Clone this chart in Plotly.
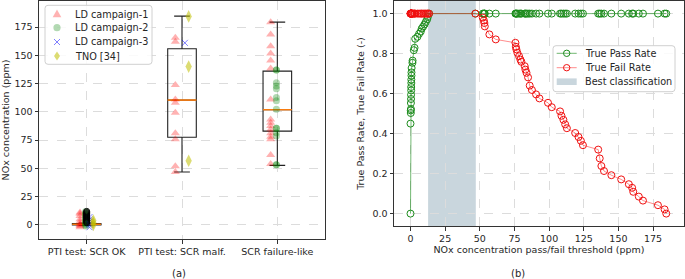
import plotly.graph_objects as go

FONT = "DejaVu Sans"

# ---------------- Panel (a) data ----------------
categories = ["PTI test: SCR OK", "PTI test: SCR malf.", "SCR failure-like"]
cat_pos = [1, 2, 3]

# LD campaign-1 (red triangles) per category
ld1_ok = [11, 10, 8, 5, 3, 1, 0, -1, -2]
ld1_malf = [165.5, 162, 123.7, 111, 108, 99.2, 81, 75.7, 52, 46.8]
ld1_fail = [179.3, 168.4, 158, 151.6, 145.4, 138.4, 111, 93.3, 90.4, 87.5,
            84.5, 81, 78, 75.7, 61.8, 53.9]
# LD campaign-2 (green circles)
ld2_ok = [12, 11, 10, 9, 8, 7, 6, 5, 4, 3, 2, 1, 0, -1]
ld2_fail = [137, 137, 125.7, 122.8, 120.4, 112.8, 109.8, 102.2, 85.4, 85.4,
            81.5, 78.6, 53.3, 53.3]
# LD campaign-3 (blue crosses)
ld3_ok = [7, 5, 3, 1, 0, -2]
ld3_malf = [161]
# TNO [34] (yellow diamonds)
tno_ok = [4, 2, 0]
tno_malf = [184.4, 140, 56.8]
# outliers of the "SCR OK" box
ok_fliers = [2, 3, 4, 5, 6, 7, 8, 9, 10, 11, 12]

# box statistics per category
box_q1 = [0.0, 77.5, 83.0]
box_median = [0.6, 110.4, 101.9]
box_q3 = [1.2, 155.8, 136.0]
box_lower = [-0.5, 46.8, 52.7]
box_upper = [1.8, 184.6, 179.3]

legend_a = ["LD campaign-1", "LD campaign-2", "LD campaign-3", "TNO [34]"]

# ---------------- Panel (b) data ----------------
ok_thresholds = [0, 0, 0.2, 0.2, 0.3, 0.3, 0.4, 0.4, 0.5, 0.5, 0.6, 0.6, 0.7, 0.7,
                 0.8, 1.4, 1.5, 2.4, 2.9, 3.4, 5.0, 6.2, 7.4, 8.1, 9.1, 10.1, 11.0,
                 12.0, 12.5, 13.4]
tpr_at_ok = [0, 0.45, 0.503, 0.516, 0.523, 0.553, 0.573, 0.594, 0.616, 0.633,
             0.653, 0.67, 0.69, 0.706, 0.728, 0.754, 0.765, 0.817, 0.829, 0.874,
             0.884, 0.899, 0.91, 0.925, 0.935, 0.946, 0.958, 0.971, 0.983, 1.0]
tfr_at_ok = [1.0, 1.0, 1.0, 1.0, 1.0, 1.0, 1.0, 1.0, 1.0, 1.0, 1.0, 1.0, 1.0, 1.0,
             1.0, 1.0, 1.0, 1.0, 1.0, 1.0, 1.0, 1.0, 1.0, 1.0, 1.0, 1.0, 1.0, 1.0,
             1.0, 1.0]
fail_thresholds = [46.8, 52.1, 52.9, 53.3, 53.6, 56.9, 61.5, 75.7, 76.0, 76.4,
                   77.1, 78.3, 79.3, 80.0, 82.4, 82.9, 83.7, 84.8, 86.0, 87.6,
                   90.6, 93.0, 99.2, 101.9, 107.9, 108.9, 110.3, 111.6, 112.8,
                   118.8, 121.2, 122.9, 124.4, 135.4, 136.5, 137.7, 139.6, 144.9,
                   152.0, 157.5, 159.9, 160.7, 164.7, 167.7, 178.5, 183.3, 184.5]
tfr_at_fail = [1.0, 0.98, 0.966, 0.953, 0.936, 0.896, 0.871, 0.854, 0.834, 0.821,
               0.804, 0.787, 0.77, 0.759, 0.737, 0.72, 0.704, 0.681, 0.64, 0.618,
               0.596, 0.576, 0.554, 0.532, 0.511, 0.489, 0.469, 0.446, 0.427,
               0.403, 0.383, 0.364, 0.342, 0.32, 0.276, 0.238, 0.213, 0.192,
               0.171, 0.147, 0.129, 0.109, 0.085, 0.065, 0.042, 0.021, 0.0]
tpr_at_fail = [1.0, 1.0, 1.0, 1.0, 1.0, 1.0, 1.0, 1.0, 1.0, 1.0, 1.0, 1.0, 1.0,
               1.0, 1.0, 1.0, 1.0, 1.0, 1.0, 1.0, 1.0, 1.0, 1.0, 1.0, 1.0, 1.0,
               1.0, 1.0, 1.0, 1.0, 1.0, 1.0, 1.0, 1.0, 1.0, 1.0, 1.0, 1.0, 1.0,
               1.0, 1.0, 1.0, 1.0, 1.0, 1.0, 1.0, 1.0]
best_range = [12.7, 47.1]

legend_b = ["True Pass Rate", "True Fail Rate", "Best classification"]

# ---------------- styles ----------------
W, H = 685, 279
RED_A = "rgba(255,0,0,0.3)"
GREEN_A = "rgba(0,128,0,0.3)"
BLUE_A = "rgba(0,0,255,0.5)"
YEL_A = "rgba(191,191,0,0.55)"
GREEN_M = "#1c8c1c"
RED_M = "#f01010"
GREEN_L = "rgba(0,128,0,0.55)"
RED_L = "rgba(255,0,0,0.45)"
SPAN = "rgb(201,214,221)"
TXT = "#262626"
off = {"ld1": -0.07, "ld2": -0.01, "ld3": 0.03, "tno": 0.07}

fig = go.Figure()


def pts(groups, key):
    xs, ys = [], []
    for p, vals in groups:
        xs += [p + off[key]] * len(vals)
        ys += list(vals)
    return xs, ys


x, y = pts([(cat_pos[0], ld1_ok), (cat_pos[1], ld1_malf), (cat_pos[2], ld1_fail)], "ld1")
fig.add_trace(go.Scatter(x=x, y=y, mode="markers", name=legend_a[0],
                         marker=dict(symbol="triangle-up", size=8, color=RED_A, line=dict(width=0)),
                         xaxis="x", yaxis="y"))
x, y = pts([(cat_pos[0], ld2_ok), (cat_pos[2], ld2_fail)], "ld2")
fig.add_trace(go.Scatter(x=x, y=y, mode="markers", name=legend_a[1],
                         marker=dict(symbol="circle", size=7, color=GREEN_A, line=dict(width=0)),
                         xaxis="x", yaxis="y"))
x, y = pts([(cat_pos[0], ld3_ok), (cat_pos[1], ld3_malf)], "ld3")
fig.add_trace(go.Scatter(x=x, y=y, mode="markers", name=legend_a[2],
                         marker=dict(symbol="x-thin", size=6, color=BLUE_A,
                                     line=dict(width=1, color=BLUE_A)),
                         xaxis="x", yaxis="y"))
x, y = pts([(cat_pos[0], tno_ok), (cat_pos[1], tno_malf)], "tno")
fig.add_trace(go.Scatter(x=x, y=y, mode="markers", name=legend_a[3],
                         marker=dict(symbol="diamond-tall", size=9, color=YEL_A, line=dict(width=0)),
                         xaxis="x", yaxis="y"))
fig.add_trace(go.Scatter(x=[cat_pos[0]] * len(ok_fliers), y=ok_fliers, mode="markers",
                         marker=dict(symbol="circle-open", size=6, color="black", line=dict(width=1)),
                         xaxis="x", yaxis="y"))

# boxes (black frame) and orange medians
fig.add_trace(go.Box(x=cat_pos, q1=box_q1, median=box_median, q3=box_q3,
                     lowerfence=box_lower, upperfence=box_upper, width=0.3,
                     whiskerwidth=0.55, line=dict(color="#222", width=1.1),
                     fillcolor="rgba(0,0,0,0)", hoverinfo="skip",
                     xaxis="x", yaxis="y"))
fig.add_trace(go.Box(x=cat_pos, q1=box_median, median=box_median, q3=box_median,
                     lowerfence=box_median, upperfence=box_median, width=0.3,
                     whiskerwidth=0, line=dict(color="#ff7f0e", width=0.8),
                     fillcolor="rgba(0,0,0,0)", hoverinfo="skip",
                     xaxis="x", yaxis="y"))

# ---------------- panel (b) traces ----------------
fig.add_trace(go.Scatter(x=ok_thresholds + fail_thresholds, y=tpr_at_ok + tpr_at_fail,
                         mode="lines+markers", name=legend_b[0],
                         line=dict(color=GREEN_L, width=1),
                         marker=dict(symbol="circle-open", size=7, color=GREEN_M,
                                     line=dict(width=1)),
                         xaxis="x2", yaxis="y2"))
fig.add_trace(go.Scatter(x=ok_thresholds + fail_thresholds, y=tfr_at_ok + tfr_at_fail,
                         mode="lines+markers", name=legend_b[1],
                         line=dict(color=RED_L, width=1),
                         marker=dict(symbol="circle-open", size=7, color=RED_M,
                                     line=dict(width=1)),
                         xaxis="x2", yaxis="y2"))
fig.add_shape(type="rect", xref="x2", yref="y2 domain", x0=best_range[0], x1=best_range[1],
              y0=0, y1=1, fillcolor=SPAN, line=dict(width=0), layer="below")

# ---------------- hand-drawn legends (compact, matplotlib style) ----------------
def px(xp):
    return xp / W


def py(yp):
    return 1 - yp / H


def rounded_box(x0, y0, x1, y1, r=3):
    p = (f"M {px(x0 + r)},{py(y0)} L {px(x1 - r)},{py(y0)} Q {px(x1)},{py(y0)} {px(x1)},{py(y0 + r)} "
         f"L {px(x1)},{py(y1 - r)} Q {px(x1)},{py(y1)} {px(x1 - r)},{py(y1)} "
         f"L {px(x0 + r)},{py(y1)} Q {px(x0)},{py(y1)} {px(x0)},{py(y1 - r)} "
         f"L {px(x0)},{py(y0 + r)} Q {px(x0)},{py(y0)} {px(x0 + r)},{py(y0)} Z")
    fig.add_shape(type="path", xref="paper", yref="paper", path=p,
                  fillcolor="rgba(255,255,255,0.85)", line=dict(color="#d0d0d0", width=1),
                  layer="above")


def poly(points, color):
    p = "M " + " L ".join(f"{px(a)},{py(b)}" for a, b in points) + " Z"
    fig.add_shape(type="path", xref="paper", yref="paper", path=p,
                  fillcolor=color, line=dict(width=0), layer="above")


def seg(x0, y0, x1, y1, color, w=1):
    fig.add_shape(type="line", xref="paper", yref="paper", x0=px(x0), y0=py(y0),
                  x1=px(x1), y1=py(y1), line=dict(color=color, width=w), layer="above")


def circ(cx, cy, r, fill, edge, w=0):
    fig.add_shape(type="circle", xref="paper", yref="paper", x0=px(cx - r), y0=py(cy - r),
                  x1=px(cx + r), y1=py(cy + r), fillcolor=fill,
                  line=dict(color=edge, width=w), layer="above")


def label(xp, yp, text):
    fig.add_annotation(x=px(xp), y=py(yp), xref="paper", yref="paper", text=text,
                       showarrow=False, xanchor="left", yanchor="middle",
                       font=dict(size=9.7, color=TXT, family=FONT))


# legend (a)
rounded_box(45, 5.3, 152, 64.3)
ys_a = [14, 27.7, 42, 56]
mx = 57
poly([(mx, ys_a[0] - 4.5), (mx - 4.3, ys_a[0] + 3.3), (mx + 4.3, ys_a[0] + 3.3)], RED_A)
circ(mx, ys_a[1], 3.6, GREEN_A, GREEN_A)
seg(mx - 3, ys_a[2] - 3, mx + 3, ys_a[2] + 3, BLUE_A)
seg(mx - 3, ys_a[2] + 3, mx + 3, ys_a[2] - 3, BLUE_A)
poly([(mx, ys_a[3] - 4.5), (mx + 3, ys_a[3]), (mx, ys_a[3] + 4.5), (mx - 3, ys_a[3])], YEL_A)
for yy, t in zip(ys_a, legend_a):
    label(73, yy, t)

# legend (b)
rounded_box(553, 45.7, 675, 91.7)
ys_b = [53.3, 67.7, 81.7]
seg(556.7, ys_b[0], 576.7, ys_b[0], GREEN_L)
circ(566.7, ys_b[0], 3.2, "rgba(0,0,0,0)", GREEN_M, 1)
seg(556.7, ys_b[1], 576.7, ys_b[1], RED_L)
circ(566.7, ys_b[1], 3.2, "rgba(0,0,0,0)", RED_M, 1)
poly([(556.7, ys_b[2] - 3.3), (576.7, ys_b[2] - 3.3), (576.7, ys_b[2] + 3.3), (556.7, ys_b[2] + 3.3)], SPAN)
for yy, t in zip(ys_b, legend_b):
    label(582.5, yy, t)

grid = dict(showgrid=True, gridcolor="#dcdcdc", griddash="dash", gridwidth=0.8,
            showline=True, linecolor="#333", linewidth=1, mirror=True,
            ticks="outside", ticklen=3.5, tickcolor="#333", zeroline=False,
            tickfont=dict(size=9.5, color=TXT, family=FONT))

fig.update_layout(
    width=W, height=H, margin=dict(l=0, r=0, t=0, b=0),
    paper_bgcolor="white", plot_bgcolor="white", showlegend=False,
    font=dict(family=FONT, size=9.5, color=TXT),
    xaxis=dict(domain=[39 / W, 325 / W], anchor="y", range=[0.5, 3.5],
               tickvals=cat_pos, ticktext=categories, **grid),
    yaxis=dict(domain=[1 - 239 / H, 1 - 1 / H], anchor="x", range=[-12.4, 198],
               tickvals=[0, 25, 50, 75, 100, 125, 150, 175],
               title=dict(text="NOx concentration (ppm)", font=dict(size=9.5), standoff=6), **grid),
    xaxis2=dict(domain=[394 / W, 684 / W], anchor="y2", range=[-11.9, 197.3],
                tickvals=[0, 25, 50, 75, 100, 125, 150, 175],
                title=dict(text="NOx concentration pass/fail threshold (ppm)",
                           font=dict(size=9.5), standoff=2), **grid),
    yaxis2=dict(domain=[1 - 226 / H, 1 - 1 / H], anchor="x2", range=[-0.062, 1.063],
                tickvals=[0, 0.2, 0.4, 0.6, 0.8, 1.0], tickformat=".1f",
                title=dict(text="True Pass Rate, True Fail Rate (-)", font=dict(size=9.5),
                           standoff=6), **grid),
)
fig.add_annotation(text="(a)", x=170 / W, y=1 - 273 / H, xref="paper", yref="paper",
                   showarrow=False, yanchor="middle", font=dict(size=10, color=TXT))
fig.add_annotation(text="(b)", x=527 / W, y=1 - 273 / H, xref="paper", yref="paper",
                   showarrow=False, yanchor="middle", font=dict(size=10, color=TXT))

fig.write_html("out.html", config={"displayModeBar": False},
               post_script="document.body.style.margin='0';")
